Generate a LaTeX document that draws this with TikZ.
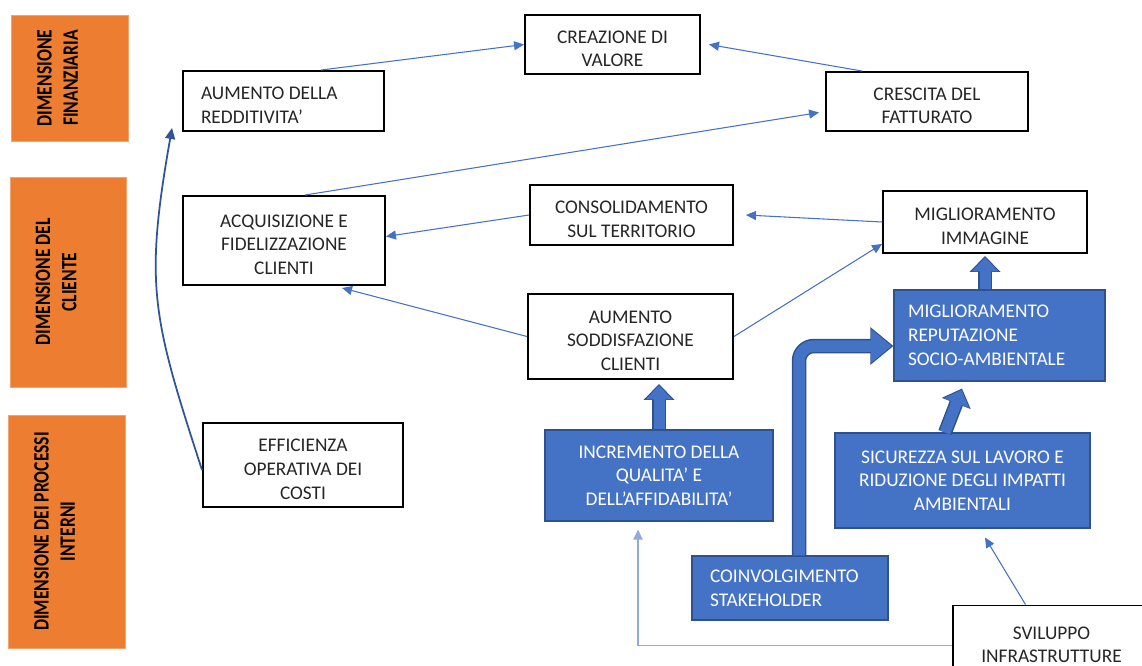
\documentclass[tikz,border=0pt]{standalone}
\usepackage{fontspec}
\setmainfont{Carlito}
\newfontfamily\dimfont[FakeStretch=0.8]{Carlito}
\usetikzlibrary{arrows.meta, calc}
\definecolor{dimorange}{HTML}{ED7D31}
\definecolor{actblue}{HTML}{4472C4}
\definecolor{actdark}{HTML}{2F528F}
\definecolor{linkblue}{HTML}{4472C4}
\definecolor{linkpale}{HTML}{8FAADC}
\definecolor{curveblue}{HTML}{2F5597}
\tikzset{
  every node/.style={font=\fontsize{11}{13.5}\selectfont},
  dimension/.style={
    fill=dimorange, draw=dimorange!70!white, line width=0.4pt,
    rotate=90, align=center, text=black, text depth=0.48cm,
    font=\dimfont\bfseries\fontsize{12.5}{15}\selectfont
  },
  goal/.style={
    draw=black, line width=1.1pt, fill=white,
    align=flush center, text width=3.4cm, inner xsep=0.05cm, text=black!85,
    execute at begin node={\rule{0pt}{0.42cm}}
  },
  action/.style={
    draw=actdark, line width=0.6pt, fill=actblue,
    align=center, text=white
  },
  link/.style={-{Triangle[length=2mm,width=1.8mm]}, draw=linkblue, line width=0.6pt},
  palelink/.style={link, draw=linkpale, line width=1.1pt},
  curvelink/.style={-{Triangle[length=2.2mm,width=2mm]}, draw=curveblue, line width=1pt},
  blkout/.style={-{Triangle[length=3.2mm,width=6mm]}, draw=actdark, line width=0.28cm},
  blkin/.style={-{Triangle[length=2.8mm,width=5.2mm]}, draw=actblue, line width=0.22cm, shorten >=0.3mm},
  blkbigout/.style={-{Triangle[length=4.6mm,width=7.2mm]}, draw=actdark, line width=0.29cm},
  blkbigin/.style={-{Triangle[length=4.1mm,width=6.4mm]}, draw=actblue, line width=0.23cm, shorten >=0.35mm},
}

\begin{document}
\begin{tikzpicture}
    \useasboundingbox[fill=white] (0,0) rectangle (22.84,-13.3);
    % dimensions
    \node[dimension, minimum width=2.52cm, minimum height=2.34cm] (fin) at (1.39,-1.56) {DIMENSIONE\\FINANZIARIA};
    \node[dimension, minimum width=4.2cm, minimum height=2.32cm] (cli) at (1.36,-5.64) {DIMENSIONE DEL\\CLIENTE};
    \node[dimension, minimum width=4.66cm, minimum height=2.34cm] (proc) at (1.33,-10.63) {DIMENSIONE DEI PROCESSI\\INTERNI};
    % goals
    \node[goal, align=flush left, inner xsep=0.36cm, text width=3.3cm, minimum height=1.2cm] (redd) at (5.67,-2.02) {AUMENTO DELLA\\REDDITIVITA’};
    \node[goal, minimum width=3.5cm, minimum height=1.18cm] (creaz) at (12.25,-0.89) {CREAZIONE DI\\VALORE};
    \node[goal, minimum width=4.04cm, minimum height=1.18cm] (cresc) at (18.54,-2.03) {CRESCITA DEL\\FATTURATO};
    \node[goal, minimum width=4.04cm, minimum height=1.78cm] (acq) at (5.68,-4.81) {ACQUISIZIONE E\\FIDELIZZAZIONE\\CLIENTI};
    \node[goal, minimum width=4.06cm, minimum height=1.2cm] (cons) at (12.63,-4.30) {CONSOLIDAMENTO\\SUL TERRITORIO};
    \node[goal, minimum width=4.08cm, minimum height=1.24cm] (imm) at (19.70,-4.44) {MIGLIORAMENTO\\IMMAGINE};
    \node[goal, minimum width=4.1cm, minimum height=1.7cm] (sodd) at (12.61,-6.73) {AUMENTO\\SODDISFAZIONE\\CLIENTI};
    \node[goal, minimum width=4cm, minimum height=1.68cm] (eff) at (6.06,-9.30) {EFFICIENZA\\OPERATIVA DEI\\COSTI};
    \node[goal, execute at begin node={}, minimum width=3.94cm, minimum height=1.4cm] (svil) at (21.03,-12.81) {SVILUPPO\\INFRASTRUTTURE};
    % actions
    \node[action, align=left, inner xsep=0.28cm, text width=3.66cm, minimum height=1.82cm] (reput) at (19.99,-6.71) {MIGLIORAMENTO\\REPUTAZIONE\\SOCIO-AMBIENTALE};
    \node[action, minimum width=4.56cm, minimum height=1.82cm] (incr) at (13.18,-9.51) {INCREMENTO DELLA\\QUALITA’ E\\DELL’AFFIDABILITA’};
    \node[action, minimum width=5.1cm, minimum height=1.9cm] (sic) at (19.25,-9.61) {SICUREZZA SUL LAVORO E\\RIDUZIONE DEGLI IMPATTI\\AMBIENTALI};
    \node[action, align=left, inner xsep=0.36cm, text width=3.2cm, minimum height=1.28cm] (coinv) at (15.80,-11.76) {COINVOLGIMENTO\\STAKEHOLDER};
    % thin arrows
    \draw[link] ([xshift=0.75cm]redd.north) -- (creaz.west);
    \draw[link] ([xshift=-1.3cm]cresc.north) -- ([xshift=0.16cm]creaz.east);
    \draw[link] ([xshift=0.42cm]acq.north) -- ([xshift=-0.12cm,yshift=-0.22cm]cresc.west);
    \draw[link] (cons.west) -- ([yshift=0.08cm]acq.east);
    \draw[link] (imm.west) -- ([xshift=0.24cm]cons.east);
    \draw[link] (sodd.west) -- ([xshift=1.16cm,yshift=-0.04cm]acq.south);
    \draw[link] (sodd.east) -- ([yshift=0.2cm]imm.south west);
    \draw[palelink] ([yshift=-0.1cm]svil.west) -| ([xshift=-0.42cm,yshift=-0.16cm]incr.south);
    \draw[link] ([xshift=-0.52cm]svil.north) -- ([xshift=0.45cm,yshift=-0.18cm]sic.south);
    \draw[curvelink] ([yshift=-0.1cm]eff.west) to[out=108,in=-100,looseness=1.2] ([xshift=-0.2cm,yshift=0.08cm]redd.south west);
    % block arrows
    \foreach \layer/\biglayer in {blkout/blkbigout, blkin/blkbigin} {
      \draw[\layer] (incr.north) -- ($(incr.north |- sodd.south)+(0,-0.08)$);
      \draw[\layer] (imm.south |- reput.north) -- ([yshift=-0.04cm]imm.south);
      \draw[\layer] ([xshift=-0.35cm]sic.north) -- ([xshift=-0.75cm,yshift=-0.14cm]reput.south);
      \draw[\biglayer, rounded corners=0.3cm] ([xshift=0.18cm]coinv.north) |- ([yshift=-0.21cm]reput.west);
    }
\end{tikzpicture}
\end{document}
